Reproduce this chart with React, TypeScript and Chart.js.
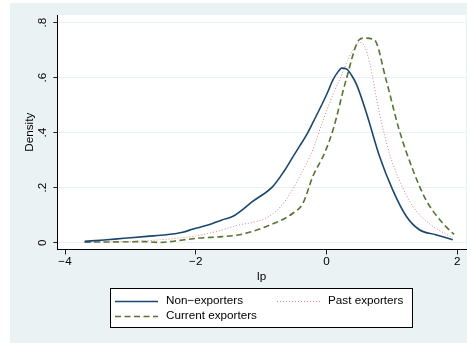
import React, { useEffect, useRef } from "react";
import { Chart, registerables } from "chart.js";

Chart.register(...registerables);

const seriesNames = ["Non\u2212exporters", "Past exporters", "Current exporters"];

const nonX = [-3.7, -3.4, -3.1, -2.75, -2.45, -2.2, -2.04, -1.8, -1.6, -1.43, -1.13, -0.82, -0.65, -0.51, -0.41, -0.31, -0.2, 0, 0.1, 0.18, 0.23, 0.31, 0.38, 0.46, 0.61, 0.81, 1.01, 1.22, 1.42, 1.67, 1.93];
const nonY = [0.005, 0.01, 0.016, 0.023, 0.029, 0.038, 0.05, 0.065, 0.083, 0.096, 0.15, 0.205, 0.26, 0.314, 0.352, 0.39, 0.441, 0.538, 0.593, 0.623, 0.635, 0.631, 0.61, 0.575, 0.472, 0.314, 0.193, 0.096, 0.047, 0.029, 0.011];

const pastX = [-3.7, -3.2, -2.7, -2.3, -2.04, -1.7, -1.33, -1.13, -0.92, -0.75, -0.62, -0.41, -0.21, -0.06, 0.1, 0.2, 0.38, 0.5, 0.58, 0.66, 0.81, 0.96, 1.11, 1.32, 1.57, 1.93];
const pastY = [0.002, 0.004, 0.008, 0.016, 0.023, 0.04, 0.065, 0.074, 0.09, 0.12, 0.156, 0.241, 0.338, 0.44, 0.54, 0.593, 0.69, 0.728, 0.715, 0.653, 0.47, 0.326, 0.229, 0.132, 0.07, 0.017];

const curX = [-3.7, -3.2, -2.8, -2.55, -2.2, -1.94, -1.6, -1.33, -0.92, -0.51, -0.36, -0.21, -0.03, 0.1, 0.3, 0.5, 0.58, 0.73, 0.91, 1.11, 1.32, 1.52, 1.73, 1.9, 1.95];
const curY = [0.002, 0.003, 0.004, 0.001, 0.01, 0.017, 0.022, 0.029, 0.059, 0.108, 0.144, 0.241, 0.326, 0.411, 0.593, 0.738, 0.744, 0.738, 0.593, 0.411, 0.265, 0.156, 0.084, 0.041, 0.03];

const xTicks = [-4, -2, 0, 2];
const xTickLabels = ["\u22124", "\u22122", "0", "2"];
const yTicks = [0, 0.2, 0.4, 0.6, 0.8];
const yTickLabels = ["0", ".2", ".4", ".6", ".8"];
const xTitle = "lp";
const yTitle = "Density";

const FONT = "'Liberation Sans', Arial, Helvetica, sans-serif";
const FS = 11.7;
const BG = "#EAF2F3";

const toPts = (xs: number[], ys: number[]) => xs.map((x, i) => ({ x, y: ys[i] }));

const bgPlugin = {
  id: "bgPlugin",
  beforeDraw(chart: any) {
    const { ctx, chartArea } = chart;
    ctx.save();
    ctx.fillStyle = BG;
    ctx.fillRect(10, 3, 457, 340);
    ctx.fillStyle = "#FFFFFF";
    ctx.fillRect(chartArea.left, chartArea.top, chartArea.right - chartArea.left, chartArea.bottom - chartArea.top);
    ctx.restore();
  },
};

const legendPlugin = {
  id: "stataLegend",
  afterDraw(chart: any) {
    const { ctx } = chart;
    const ds = chart.data.datasets;
    ctx.save();
    const bx = 110.5, by = 288.5, bw = 302, bh = 39;
    ctx.fillStyle = "#FFFFFF";
    ctx.fillRect(bx, by, bw, bh);
    ctx.strokeStyle = "#000000";
    ctx.lineWidth = 1;
    ctx.strokeRect(bx, by, bw, bh);
    const entries = [
      { i: 0, x0: 115, x1: 158, tx: 166, y: 301 },
      { i: 1, x0: 277, x1: 320, tx: 328, y: 301 },
      { i: 2, x0: 115, x1: 158, tx: 166, y: 316 },
    ];
    ctx.font = `${FS}px ${FONT}`;
    ctx.textBaseline = "middle";
    ctx.textAlign = "left";
    for (const e of entries) {
      const d = ds[e.i];
      ctx.beginPath();
      ctx.strokeStyle = d.borderColor;
      ctx.lineWidth = d.borderWidth;
      ctx.setLineDash(d.borderDash || []);
      ctx.moveTo(e.x0, e.y + 0.5);
      ctx.lineTo(e.x1, e.y + 0.5);
      ctx.stroke();
      ctx.setLineDash([]);
      ctx.fillStyle = "#000000";
      ctx.fillText(d.label, e.tx, e.y);
    }
    ctx.restore();
  },
};

export default function App() {
  const ref = useRef<HTMLCanvasElement>(null);
  useEffect(() => {
    if (!ref.current) return;
    const chart = new Chart(ref.current, {
      type: "line",
      data: {
        datasets: [
          {
            label: seriesNames[0],
            data: toPts(nonX, nonY),
            borderColor: "#1A476F",
            borderWidth: 1.6,
            pointRadius: 0,
            cubicInterpolationMode: "monotone",
            fill: false,
          },
          {
            label: seriesNames[1],
            data: toPts(pastX, pastY),
            borderColor: "#D9808C",
            borderWidth: 1,
            borderDash: [1, 2],
            pointRadius: 0,
            cubicInterpolationMode: "monotone",
            fill: false,
          },
          {
            label: seriesNames[2],
            data: toPts(curX, curY),
            borderColor: "#55752F",
            borderWidth: 1.6,
            borderDash: [6, 3.5],
            pointRadius: 0,
            cubicInterpolationMode: "monotone",
            fill: false,
          },
        ] as any,
      },
      options: {
        responsive: false,
        animation: false,
        layout: { padding: { left: 10, top: 15, right: 1, bottom: 60.5 } },
        plugins: { legend: { display: false }, tooltip: { enabled: false } },
        scales: {
          x: {
            type: "linear",
            min: -4.118,
            max: 2.133,
            afterBuildTicks: (s: any) => {
              s.ticks = xTicks.map((v) => ({ value: v }));
            },
            afterFit: (s: any) => {
              s.height = 35;
            },
            ticks: {
              callback: (v: any) => xTickLabels[xTicks.indexOf(Number(v))] ?? "",
              font: { family: FONT, size: FS },
              color: "#000000",
              padding: 0,
              maxRotation: 0,
              minRotation: 0,
            },
            grid: {
              drawOnChartArea: false,
              drawTicks: true,
              tickLength: 5,
              tickColor: "#222222",
              color: "#222222",
            },
            border: { display: true, color: "#000000", width: 1 },
            title: {
              display: true,
              text: xTitle,
              font: { family: FONT, size: FS },
              color: "#000000",
              padding: { top: 0, bottom: 0.8 },
            },
          },
          y: {
            type: "linear",
            min: -0.0247,
            max: 0.828,
            afterBuildTicks: (s: any) => {
              s.ticks = yTicks.map((v) => ({ value: v }));
            },
            afterFit: (s: any) => {
              s.width = 47.3;
            },
            ticks: {
              callback: (v: any) => {
                const i = yTicks.findIndex((t) => Math.abs(t - Number(v)) < 1e-9);
                return i >= 0 ? yTickLabels[i] : "";
              },
              font: { family: FONT, size: FS },
              color: "#000000",
              padding: 5.7,
              minRotation: 90,
              maxRotation: 90,
              crossAlign: "center",
            },
            grid: {
              drawOnChartArea: true,
              drawTicks: true,
              tickLength: 4,
              color: BG,
              tickColor: "#222222",
              lineWidth: 1,
            },
            border: { display: true, color: "#000000", width: 1 },
            title: {
              display: true,
              text: yTitle,
              font: { family: FONT, size: FS },
              color: "#000000",
              padding: { top: 12.3, bottom: 0 },
            },
          },
        },
      },
      plugins: [bgPlugin, legendPlugin],
    } as any);
    return () => chart.destroy();
  }, []);
  return (
    <div style={{ position: "fixed", left: 0, top: 0, width: 467, height: 345, background: "#FFFFFF" }}>
      <canvas ref={ref} width={467} height={345} style={{ width: 467, height: 345, display: "block" }} />
    </div>
  );
}
